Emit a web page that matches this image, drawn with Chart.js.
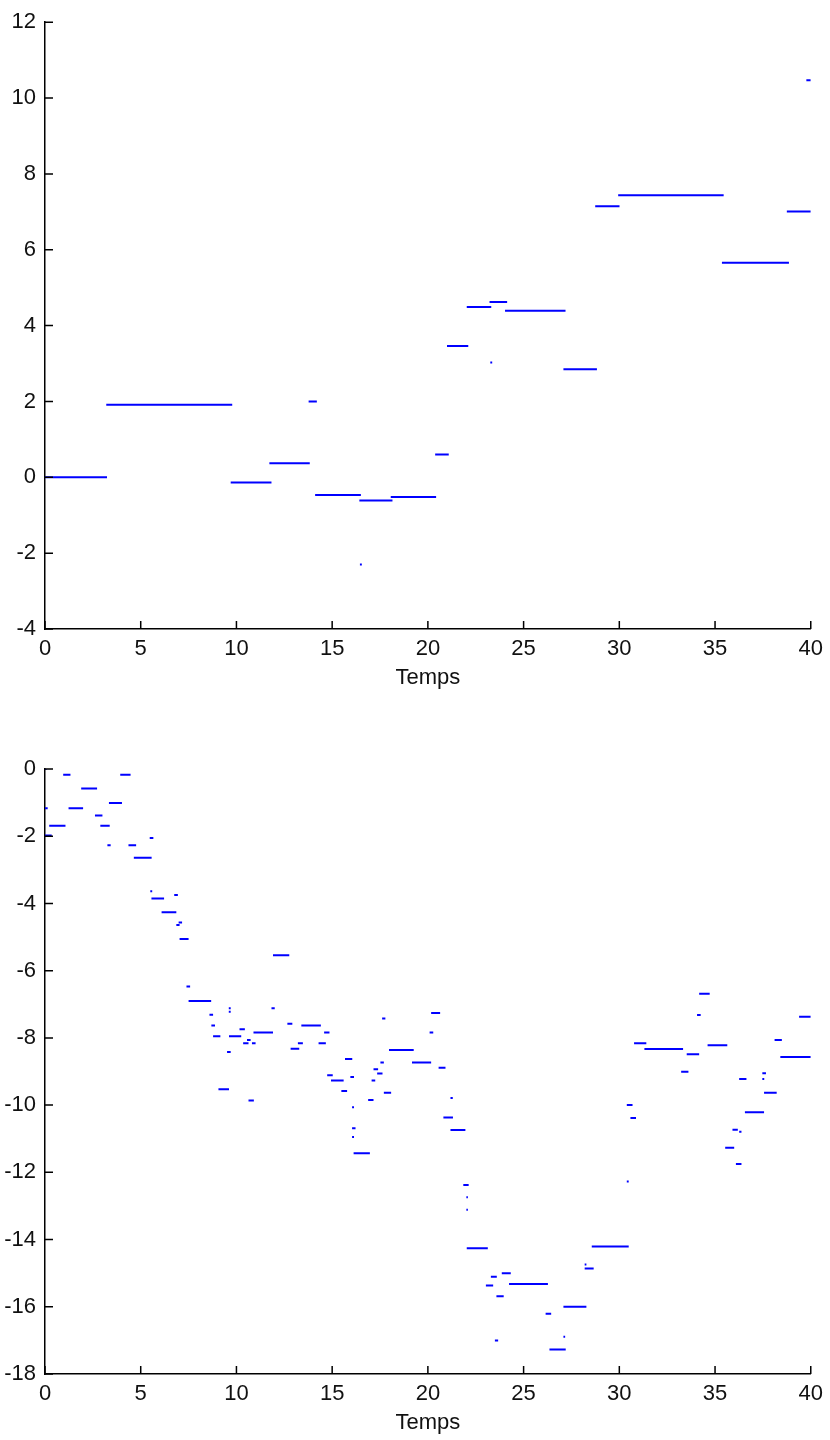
<!DOCTYPE html>
<html><head><meta charset="utf-8">
<script src="https://cdn.jsdelivr.net/npm/chart.js@4.4.0/dist/chart.umd.min.js"></script>
<style>
html,body{margin:0;padding:0;background:#fff;}
#w1{position:absolute;left:0;top:0;width:830px;height:700px;}
#w2{position:absolute;left:0;top:700px;width:830px;height:740px;}
</style></head><body>
<div id="w1"><canvas id="c1"></canvas></div>
<div id="w2"><canvas id="c2"></canvas></div>
<script>
// ---- tick labels ----
const xTicks = [0, 5, 10, 15, 20, 25, 30, 35, 40];
const topYTicks = [-4, -2, 0, 2, 4, 6, 8, 10, 12];
const botYTicks = [-18, -16, -14, -12, -10, -8, -6, -4, -2, 0];
const xTitle = 'Temps';

// ---- top panel: horizontal segments (start time, end time, value) ----
const topStart = [0, 3.2, 9.7, 11.72, 13.77, 14.11, 16.42, 16.45, 18.06, 20.38, 21.0, 22.03, 23.22, 23.26, 24.03, 27.08, 28.74, 29.94, 35.36, 38.75, 39.77];
const topEnd   = [3.24, 9.78, 11.83, 13.83, 14.2, 16.5, 18.15, 16.55, 20.43, 21.09, 22.11, 23.31, 24.14, 23.36, 27.19, 28.83, 30.01, 35.45, 38.86, 40, 40];
const topValue = [0, 1.91, -0.14, 0.37, 2.0, -0.47, -0.61, -2.30, -0.52, 0.60, 3.46, 4.49, 4.62, 3.03, 4.39, 2.85, 7.15, 7.44, 5.66, 7.01, 10.47];

// ---- bottom panel: horizontal segments ----
const botStart = [0, 0, 0, 0.22, 0.95, 1.23, 1.89, 2.61, 2.89, 3.26, 3.34, 3.93, 4.36, 4.64, 5.47, 5.5, 5.56, 6.09, 6.75, 6.86,
  6.98, 7.03, 7.39, 7.5, 8.59, 8.69, 8.78, 9.06, 9.51, 9.6, 9.6, 9.61, 10.16, 10.35, 10.55, 10.63, 10.81, 10.89, 11.83, 11.91,
  12.66, 12.83, 13.21, 13.39, 14.29, 14.58, 14.74, 14.94, 15.48, 15.67, 15.95, 16.04, 16.04, 16.04, 16.12, 16.88, 17.06, 17.16, 17.35, 17.52,
  17.61, 17.70, 17.97, 19.17, 20.09, 20.17, 20.56, 20.81, 21.18, 21.18, 21.85, 22.01, 22.01, 22.03, 23.03, 23.29, 23.5, 23.58, 23.86, 24.24,
  26.15, 26.35, 27.08, 27.08, 28.19, 28.19, 28.56, 30.39, 30.39, 30.58, 30.77, 31.31, 33.23, 33.52, 34.06, 34.17, 34.61, 35.53, 35.91, 36.09,
  36.26, 36.26, 36.56, 37.47, 37.47, 37.56, 38.11, 38.41, 39.39];
const botEnd = [0.08, 0.14, 0.35, 1.07, 1.33, 1.99, 2.72, 3.0, 3.38, 3.43, 4.02, 4.47, 4.76, 5.57, 5.66, 5.6, 6.22, 6.86, 6.94, 7.03,
  7.16, 7.5, 7.58, 8.68, 8.78, 8.88, 9.16, 9.61, 9.7, 9.7, 9.7, 10.25, 10.44, 10.63, 10.74, 10.91, 11.0, 11.91, 12.0, 12.76,
  12.92, 13.28, 13.47, 14.41, 14.67, 14.86, 15.03, 15.6, 15.78, 16.05, 16.14, 16.14, 16.22, 16.14, 16.97, 17.16, 17.25, 17.4, 17.63, 17.70,
  17.78, 18.08, 19.26, 20.17, 20.28, 20.64, 20.92, 21.31, 21.30, 21.96, 22.13, 22.09, 22.09, 23.13, 23.41, 23.60, 23.67, 23.96, 24.33, 26.27,
  26.44, 27.2, 27.17, 28.28, 28.28, 28.66, 30.49, 30.49, 30.69, 30.87, 31.41, 33.33, 33.61, 34.17, 34.25, 34.72, 35.64, 36.0, 36.19, 36.38,
  36.38, 36.64, 37.56, 37.66, 37.57, 38.22, 38.49, 40, 40];
const botValue = [0, -1.17, -1.98, -1.69, -0.17, -1.17, -0.58, -1.38, -1.69, -2.27, -1.01, -0.17, -2.27, -2.64, -2.05, -3.64, -3.85, -4.26, -3.75, -4.64,
  -4.57, -5.06, -6.47, -6.90, -7.31, -7.63, -7.95, -9.53, -8.42, -7.12, -7.22, -7.95, -7.74, -8.16, -8.06, -9.86, -8.16, -7.84, -7.12, -5.54,
  -7.58, -8.32, -8.16, -7.63, -8.16, -7.84, -9.11, -9.27, -9.58, -8.63, -9.16, -10.06, -10.69, -10.95, -11.43, -9.85, -9.27, -8.93, -9.06, -8.73,
  -7.42, -9.63, -8.36, -8.73, -7.84, -7.26, -8.89, -10.37, -9.79, -10.74, -12.38, -12.74, -13.11, -14.26, -15.37, -15.11, -17.0, -15.69, -15.0, -15.32,
  -16.21, -17.27, -16.89, -16.0, -14.74, -14.86, -14.21, -12.27, -10.0, -10.38, -8.16, -8.33, -9.01, -8.49, -7.32, -6.69, -8.22, -11.27, -10.73, -11.75,
  -10.79, -9.22, -10.21, -9.05, -9.22, -9.63, -8.06, -8.57, -7.37];

function segPoints(s, e, v) {
  const pts = [];
  for (let i = 0; i < s.length; i++) {
    pts.push({x: s[i], y: v[i]}, {x: e[i], y: v[i]}, {x: e[i], y: null});
  }
  return pts;
}

const FONT = {family: '"Liberation Sans", Arial, sans-serif', size: 22};

const inwardTicks = {
  id: 'inwardTicks',
  afterDatasetsDraw(chart) {
    const {ctx, chartArea: a, scales: {x, y}} = chart;
    ctx.save();
    ctx.strokeStyle = '#000';
    ctx.lineWidth = 1.5;
    ctx.beginPath();
    x.ticks.forEach(t => { const px = x.getPixelForValue(t.value); ctx.moveTo(px, a.bottom); ctx.lineTo(px, a.bottom - 8); });
    y.ticks.forEach(t => { const py = y.getPixelForValue(t.value); ctx.moveTo(a.left, py); ctx.lineTo(a.left + 8, py); });
    ctx.stroke();
    ctx.restore();
  }
};

function makeChart(id, start, end, value, yTicks, padTop, xBoxH, titlePadBottom) {
  return new Chart(document.getElementById(id), {
    type: 'scatter',
    data: {datasets: [{
      data: segPoints(start, end, value),
      showLine: true, spanGaps: false,
      borderColor: '#0000ff', backgroundColor: '#0000ff',
      borderWidth: 2, borderCapStyle: 'butt',
      pointRadius: 0, pointHoverRadius: 0
    }]},
    options: {
      responsive: true, maintainAspectRatio: false, animation: false,
      layout: {padding: {top: padTop, right: 15, left: 0, bottom: 0}},
      plugins: {legend: {display: false}, tooltip: {enabled: false}},
      events: [],
      scales: {
        x: {
          type: 'linear', min: xTicks[0], max: xTicks[xTicks.length - 1],
          afterBuildTicks: s => { s.ticks = xTicks.map(v => ({value: v})); },
          afterFit: s => { s.height = xBoxH; },
          grid: {display: false, drawTicks: false},
          border: {display: true, color: '#000', width: 1.5},
          ticks: {font: FONT, color: '#111', padding: 7, maxRotation: 0, autoSkip: false},
          title: {display: true, text: xTitle, font: FONT, color: '#111', padding: {top: 0, bottom: titlePadBottom}}
        },
        y: {
          type: 'linear', min: yTicks[0], max: yTicks[yTicks.length - 1],
          afterBuildTicks: s => { s.ticks = yTicks.map(v => ({value: v})); },
          afterFit: s => { s.width = 45; },
          grid: {display: false, drawTicks: false},
          border: {display: true, color: '#000', width: 1.5},
          ticks: {font: FONT, color: '#111', padding: 9, autoSkip: false}
        }
      }
    },
    plugins: [inwardTicks]
  });
}

makeChart('c1', topStart, topEnd, topValue, topYTicks, 22, 71, 9);
makeChart('c2', botStart, botEnd, botValue, botYTicks, 69, 66, 4);
</script>
</body></html>
